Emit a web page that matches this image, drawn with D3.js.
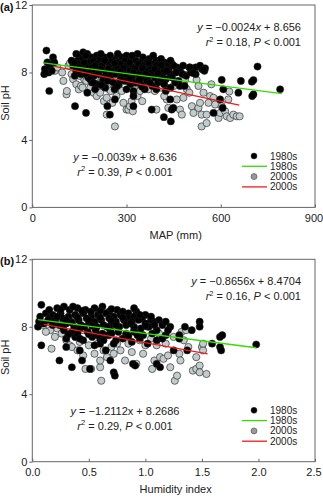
<!DOCTYPE html>
<html>
<head>
<meta charset="utf-8">
<script src="https://cdn.jsdelivr.net/npm/d3@7"></script>
<style>
  body { margin: 0; background: #fff; }
  svg { display: block; font-family: Arial, "Liberation Sans", sans-serif; }
</style>
</head>
<body>
<div id="chart"></div>
<script>
// soil pH against mean annual precipitation (mm), 1980s survey
var mapPts1980 = [
  [38,7.9],[40,8.2],[45,9.3],[48,8.6],[52,8.0],[55,8.3],[58,8.5],[62,8.1],[66,8.9],[54,6.9],[42,8.0],[70,8.6],
  [140,9.1],[150,9.0],[162,9.2],[175,9.1],[188,8.9],[205,9.0],[230,8.9],[262,8.8],[285,8.9],[300,9.0],[335,9.1],[352,8.9],[372,8.8],[395,8.7],[420,8.6],[445,8.5],
  [125,8.7],[145,8.7],[160,8.8],[180,8.6],[195,8.7],[215,8.8],[240,8.6],[255,8.7],[275,8.6],[295,8.7],[315,8.8],[330,8.7],[345,8.6],[365,8.6],[385,8.5],[405,8.6],[430,8.4],[460,8.3],
  [130,8.4],[150,8.5],[170,8.4],[190,8.3],[205,8.5],[222,8.4],[245,8.3],[265,8.4],[280,8.5],[300,8.4],[320,8.3],[338,8.5],[355,8.4],[375,8.3],[395,8.4],[415,8.3],[435,8.2],[450,8.4],[470,8.1],[500,8.3],[520,8.3],
  [140,8.1],[160,8.2],[180,8.0],[200,8.1],[218,8.2],[235,8.0],[252,8.1],[272,8.2],[290,8.0],[310,8.1],[328,8.2],[345,8.0],[362,8.1],[380,8.0],[398,8.1],[418,8.0],[440,7.9],[458,8.0],[478,7.9],[540,8.2],[548,8.1],
  [135,7.8],[155,7.9],[178,7.7],[196,7.8],[212,7.9],[228,7.7],[248,7.8],[265,7.9],[284,7.7],[302,7.8],[318,7.7],[336,7.9],[352,7.7],[370,7.8],[390,7.7],[408,7.8],[425,7.6],[445,7.7],[465,7.5],[490,7.8],
  [190,7.4],[205,7.3],[225,7.5],[258,7.4],[275,7.3],[295,7.5],[312,7.3],[328,7.4],[345,7.3],[365,7.5],[382,7.2],[400,7.4],[420,7.3],[440,7.1],[470,7.2],
  [200,7.0],[232,7.1],[262,7.0],[300,7.0],[322,6.9],[358,7.0],[395,7.0],[425,6.9],
  [170,9.0],[218,9.1],[248,9.0],[272,9.1],[318,9.0],[385,9.0],[410,8.8],[135,8.55],[165,8.6],[200,8.4],[230,8.7],[262,8.55],[290,8.25],[310,8.6],
  [350,8.25],[370,8.55],[390,8.2],[410,8.45],[440,8.7],[480,8.4],[150,8.3],[210,7.95],[242,8.2],[280,8.05],[322,8.0],[360,7.9],[400,7.95],[430,8.1],
  [505,8.0],[170,7.9],[240,7.5],[280,7.55],[310,7.6],[340,7.55],[375,7.4],[410,7.6],[455,7.4],[485,7.2],[350,7.15],[270,7.2],[220,7.25],[520,7.9],
  [136,6.0],[171,5.6],[175,6.8],[184,7.6],[194,7.4],[239,6.0],[247,5.5],[263,6.4],[322,6.6],[322,6.0],[380,5.8],[419,5.35],[441,5.1],[444,5.8],[449,5.9],[439,6.4],
  [502,8.3],[513,7.96],[534,8.4],[550,8.25],[545,8.16],[577,5.6],[598,6.4],[608,7.0],[606,5.9],[603,7.56],[656,6.8],[664,7.5],[699,7.45],[704,7.55],[704,6.7],[700,6.6],[717,8.35],[789,7.0]
];

// same for the 2000s resurvey
var mapPts2000 = [
  [72,8.1],[80,8.3],[95,8.0],[99,7.5],[109,6.7],[115,8.4],[120,8.55],[125,7.9],[130,7.6],[140,7.3],[148,7.0],[155,7.2],[160,7.1],[165,7.6],[172,7.5],[178,8.0],
  [185,7.1],[195,6.8],[205,6.6],[210,7.2],[216,6.8],[222,7.5],[228,6.3],[237,6.5],[237,5.5],[245,7.0],[250,6.9],[255,6.2],[263,4.8],[268,6.6],[275,7.2],[285,6.9],
  [300,5.8],[306,5.8],[311,6.0],[316,6.3],[325,7.0],[335,6.6],[343,6.9],[355,7.3],[370,7.0],[390,6.9],[410,7.1],[428,6.4],[433,5.9],[450,7.2],[460,6.4],[470,5.8],
  [476,5.5],[481,6.5],[486,7.86],[486,7.56],[492,7.0],[500,6.8],[508,6.0],[513,5.6],[523,7.56],[529,7.2],[529,5.9],[534,6.2],[539,5.5],[539,4.8],[545,6.8],[555,5.0],
  [555,5.5],[561,6.2],[566,6.6],[570,7.3],[577,6.5],[582,6.1],[593,5.3],[598,5.6],[603,6.0],[614,5.7],[619,5.4],[624,6.4],[627,6.87],[630,5.3],[640,5.5],[651,5.4],
  [660,5.4],[110,6.9],[150,7.8],[200,7.7],[290,6.2],[320,5.7],[395,5.8],[420,6.6],[350,6.3]
];

// soil pH against humidity index, 1980s
var hiPts1980 = [
  [0.05,8.0],[0.06,8.3],[0.08,9.3],[0.07,8.6],[0.1,8.2],[0.12,8.8],[0.08,6.9],[0.15,8.5],
  [0.22,9.1],[0.28,9.2],[0.33,9.0],[0.4,9.1],[0.47,9.0],[0.55,9.1],[0.62,9.2],[0.68,8.9],[0.75,9.0],[0.85,8.8],[0.92,8.9],[1.0,8.7],
  [0.18,8.7],[0.25,8.8],[0.32,8.6],[0.38,8.7],[0.45,8.8],[0.52,8.6],[0.58,8.7],[0.65,8.8],[0.72,8.6],[0.78,8.7],[0.85,8.5],[0.9,8.6],[0.97,8.5],[1.05,8.4],[1.12,8.4],
  [0.2,8.4],[0.27,8.5],[0.34,8.3],[0.41,8.4],[0.48,8.5],[0.55,8.3],[0.61,8.4],[0.68,8.5],[0.74,8.3],[0.81,8.4],[0.88,8.3],[0.94,8.4],[1.0,8.2],[1.07,8.3],[1.15,8.1],[1.22,8.0],
  [0.24,8.1],[0.3,8.2],[0.37,8.0],[0.43,8.1],[0.5,8.2],[0.57,8.0],[0.63,8.1],[0.7,8.2],[0.77,8.0],[0.83,8.1],[0.9,8.0],[0.96,7.9],[1.03,8.0],[1.1,7.8],
  [0.28,7.8],[0.35,7.7],[0.42,7.9],[0.49,7.7],[0.56,7.8],[0.62,7.6],[0.69,7.8],[0.76,7.7],[0.83,7.6],[0.9,7.7],[0.98,7.5],[1.06,7.6],[1.18,7.5],
  [0.3,7.3],[0.38,7.4],[0.45,7.2],[0.53,7.4],[0.6,7.3],[0.67,7.5],[0.74,7.2],[0.8,7.3],[0.88,7.1],[0.95,7.3],[1.02,7.0],[1.1,7.2],
  [0.15,9.0],[0.25,9.0],[0.36,9.2],[0.44,8.95],[0.52,8.9],[0.6,8.95],[0.7,9.05],[0.8,8.9],[0.9,9.1],[0.14,8.4],[0.22,8.6],[0.3,8.4],[0.4,8.55],[0.5,8.4],
  [0.6,8.55],[0.7,8.35],[0.8,8.55],[0.95,8.7],[1.05,8.6],[1.18,8.3],[0.18,8.1],[0.27,8.0],[0.35,8.25],[0.46,8.0],[0.53,8.05],[0.66,8.0],[0.74,8.1],[0.87,8.2],
  [1.0,8.05],[1.08,8.1],[0.32,7.55],[0.4,7.6],[0.5,7.55],[0.58,7.5],[0.7,7.6],[0.85,7.45],[0.93,7.5],[1.15,7.3],[0.42,7.3],[0.72,7.0],[0.6,7.0],[1.2,7.8],[1.3,7.3],[1.35,8.0],
  [0.24,6.0],[0.35,5.6],[0.44,6.0],[0.51,5.5],[0.63,7.2],[0.69,6.0],[0.72,5.3],[0.73,5.1],[0.89,5.8],[0.91,5.7],[1.10,5.8],[1.13,5.6],
  [1.25,6.6],[1.37,6.6],[1.41,7.8],[1.48,8.3],[1.48,8.0],[1.3,7.5],[1.59,7.0],[1.66,7.4],[1.68,7.5],[1.66,6.8],[1.67,6.6],[1.98,6.95],
  [0.42,6.6],[0.55,6.9],[0.3,6.8],[0.65,6.6]
];

// humidity index, 2000s
var hiPts2000 = [
  [0.1,8.1],[0.14,8.3],[0.16,7.8],[0.17,6.7],[0.2,7.4],[0.22,7.9],[0.26,7.6],[0.3,7.2],[0.33,6.9],[0.35,6.8],[0.38,7.4],[0.4,6.6],[0.42,7.1],[0.45,6.3],[0.47,5.5],[0.5,6.9],
  [0.52,5.5],[0.55,6.4],[0.58,7.0],[0.6,5.6],[0.61,4.8],[0.63,6.6],[0.66,6.2],[0.7,6.8],[0.72,6.4],[0.75,7.0],[0.78,6.6],[0.8,7.4],[0.85,7.0],[0.88,6.5],[0.92,5.8],[0.95,7.2],
  [0.98,6.4],[1.0,6.9],[1.02,8.0],[1.05,7.3],[1.06,5.5],[1.08,6.0],[1.1,6.9],[1.13,6.2],[1.16,6.1],[1.18,7.0],[1.2,6.3],[1.22,5.6],[1.26,4.8],[1.28,5.1],[1.3,6.4],[1.31,6.0],
  [1.32,7.7],[1.34,7.2],[1.36,7.8],[1.38,6.8],[1.42,5.4],[1.45,5.5],[1.45,6.2],[1.48,5.7],[1.48,5.3],[1.5,6.8],[1.51,6.6],[1.51,7.0],[1.54,5.2],
  [0.25,8.2],[0.45,7.8],[0.68,7.5],[0.9,7.8],[1.12,7.6],[1.25,7.4],[0.12,7.7],[0.6,6.0],[0.82,6.0]
];

// fitted lines: slope, intercept and the x range each was drawn over
var mapFit1980 = {slope: -0.0024, icpt: 8.656, from: 35, to: 794};
var mapFit2000 = {slope: -0.0039, icpt: 8.636, from: 72, to: 659};
var hiFit1980 = {slope: -0.8656, icpt: 8.4704, from: 0.05, to: 1.98};
var hiFit2000 = {slope: -1.2112, icpt: 8.2686, from: 0.10, to: 1.55};

var mapTicks = [0, 300, 600, 900];
var hiTicks = [0, 0.5, 1.0, 1.5, 2.0, 2.5];
var phTicks = [0, 4, 8, 12];

var W = 323, H = 500;
var left = 32.3, right = 315;

var svg = d3.select("#chart").append("svg")
  .attr("width", W)
  .attr("height", H);

function panel(opt) {
  var top = opt.top, bottom = opt.top + 202.4;
  var g = svg.append("g");

  var x = d3.scaleLinear().domain(opt.xDomain).range([left, right]);
  var y = d3.scaleLinear().domain([0, 12]).range([bottom, top]);

  // points: 2000s underneath, 1980s on top
  g.append("g").selectAll("circle")
    .data(opt.pts2000).enter().append("circle")
    .attr("cx", function(d) { return x(d[0]); })
    .attr("cy", function(d) { return y(d[1]); })
    .attr("r", 3.6)
    .attr("fill", "#c3cccc")
    .attr("stroke", "#333")
    .attr("stroke-width", 0.7);

  g.append("g").selectAll("circle")
    .data(opt.pts1980).enter().append("circle")
    .attr("cx", function(d) { return x(d[0]); })
    .attr("cy", function(d) { return y(d[1]); })
    .attr("r", 3.6)
    .attr("fill", "#000")
    .attr("stroke", "#222")
    .attr("stroke-width", 0.5);

  // regression lines
  [[opt.fit1980, "#33dd00"], [opt.fit2000, "#ee1c1c"]].forEach(function(f) {
    var fit = f[0];
    var ends = [fit.from, fit.to].map(function(v) { return [v, fit.slope * v + fit.icpt]; });
    g.append("path")
      .datum(ends)
      .attr("fill", "none")
      .attr("stroke", f[1])
      .attr("stroke-width", 1.3)
      .attr("d", d3.line()
        .x(function(d) { return x(d[0]); })
        .y(function(d) { return y(d[1]); }));
  });

  // frame
  g.append("rect")
    .attr("x", left).attr("y", top)
    .attr("width", right - left).attr("height", bottom - top)
    .attr("fill", "none")
    .attr("stroke", "#666")
    .attr("stroke-width", 1);

  // x axis: ticks pointing inward
  var xAxis = g.append("g")
    .attr("transform", "translate(0," + bottom + ")")
    .call(d3.axisBottom(x).tickValues(opt.xTicks).tickFormat(opt.xFormat)
      .tickSizeInner(-3).tickSizeOuter(0).tickPadding(7));
  xAxis.select(".domain").remove();
  xAxis.selectAll("line").attr("stroke", "#666");
  xAxis.selectAll("text").attr("font-size", 11).attr("fill", "#222")
    .attr("font-family", "Arial, 'Liberation Sans', sans-serif");
  // keep the last label inside the page edge
  xAxis.selectAll(".tick:last-of-type text").attr("dx", -1.5);

  // y axis: ticks pointing outward
  var yAxis = g.append("g")
    .attr("transform", "translate(" + left + ",0)")
    .call(d3.axisLeft(y).tickValues(phTicks).tickSizeInner(3).tickSizeOuter(0).tickPadding(2));
  yAxis.select(".domain").remove();
  yAxis.selectAll("line").attr("stroke", "#666");
  yAxis.selectAll("text").attr("font-size", 11).attr("fill", "#222")
    .attr("font-family", "Arial, 'Liberation Sans', sans-serif");

  // axis titles and panel letter
  g.append("text")
    .attr("x", (left + right) / 2 + 2)
    .attr("y", bottom + 31.5)
    .attr("text-anchor", "middle")
    .attr("font-size", 11)
    .attr("fill", "#222")
    .text(opt.xTitle);

  g.append("text")
    .attr("transform", "translate(8.6," + (top + 98) + ") rotate(-90)")
    .attr("text-anchor", "middle")
    .attr("font-size", 11)
    .attr("fill", "#222")
    .text("Soil pH");

  g.append("text")
    .attr("x", 0)
    .attr("y", top + 6)
    .attr("font-size", 11)
    .attr("font-weight", "bold")
    .attr("fill", "#111")
    .text(opt.letter);

  // fitted equations
  function equation(px, py, anchor, fit, r2, italicX) {
    var sign = fit.slope < 0 ? "\u2212" : "";
    var t1 = g.append("text").attr("x", px).attr("y", py)
      .attr("text-anchor", anchor).attr("font-size", 11).attr("fill", "#222");
    t1.append("tspan").attr("font-style", "italic").text("y");
    t1.append("tspan").text(" = " + sign + Math.abs(fit.slope));
    t1.append("tspan").attr("font-style", italicX ? "italic" : "normal").text("x");
    t1.append("tspan").text(" + " + fit.icpt);

    var t2 = g.append("text").attr("x", px).attr("y", py + 15)
      .attr("text-anchor", anchor).attr("font-size", 11).attr("fill", "#222");
    t2.append("tspan").attr("font-style", "italic").text("r");
    t2.append("tspan").attr("font-size", 7.5).attr("dy", -4.5).text("2");
    t2.append("tspan").attr("dy", 4.5).text(" = " + r2 + ", ");
    t2.append("tspan").attr("font-style", "italic").text("P");
    t2.append("tspan").text(" < 0.001");
  }
  equation(301, top + 26, "end", opt.fit1980, opt.r1980, opt.italicX);
  equation(125, top + 155.5, "middle", opt.fit2000, opt.r2000, opt.italicX);

  // legend
  var lg = g.append("g").attr("transform", "translate(0," + top + ")");
  var legendRows = [
    {kind: "dot", color: "#000", label: "1980s"},
    {kind: "line", color: "#33dd00", label: "1980s"},
    {kind: "dot", color: "#999", label: "2000s"},
    {kind: "line", color: "#ee1c1c", label: "2000s"}
  ];
  legendRows.forEach(function(r, i) {
    var ly = 151 + i * 10.3;
    if (r.kind === "dot") {
      lg.append("circle").attr("cx", 254).attr("cy", ly).attr("r", 3)
        .attr("fill", r.color).attr("stroke", "#333").attr("stroke-width", 0.5);
    } else {
      lg.append("line").attr("x1", 242).attr("x2", 267).attr("y1", ly).attr("y2", ly)
        .attr("stroke", r.color).attr("stroke-width", 1.3);
    }
    lg.append("text").attr("x", 270).attr("y", ly + 3.5)
      .attr("font-size", 10).attr("fill", "#222").text(r.label);
  });
}

panel({
  top: 5, letter: "(a)", xTitle: "MAP (mm)",
  xDomain: [0, 900], xTicks: mapTicks, xFormat: d3.format("d"),
  pts1980: mapPts1980, pts2000: mapPts2000,
  fit1980: mapFit1980, fit2000: mapFit2000,
  r1980: "0.18", r2000: "0.39", italicX: true
});

panel({
  top: 259.3, letter: "(b)", xTitle: "Humidity index",
  xDomain: [0, 2.5], xTicks: hiTicks, xFormat: d3.format(".1f"),
  pts1980: hiPts1980, pts2000: hiPts2000,
  fit1980: hiFit1980, fit2000: hiFit2000,
  r1980: "0.16", r2000: "0.29", italicX: false
});
</script>
</body>
</html>
